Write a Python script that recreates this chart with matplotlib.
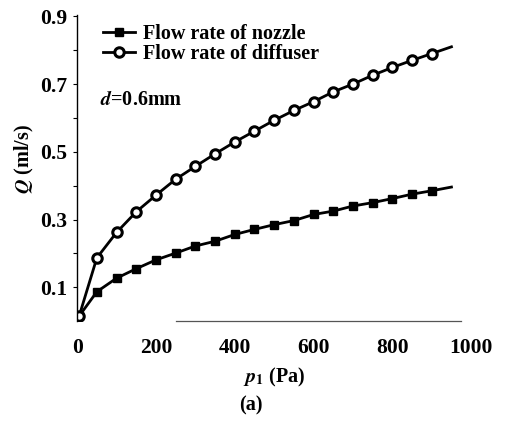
import matplotlib
matplotlib.use('Agg')
import matplotlib.pyplot as plt

# data
p_pts = [5, 50, 100, 150, 200, 250, 300, 350, 400, 450, 500,
         550, 600, 650, 700, 750, 800, 850, 900]
q_nozzle = [0.015, 0.087, 0.127, 0.155, 0.181, 0.201, 0.222, 0.236, 0.256,
            0.271, 0.285, 0.297, 0.315, 0.325, 0.340, 0.350, 0.362, 0.375, 0.385]
q_diffuser = [0.015, 0.187, 0.262, 0.323, 0.372, 0.419, 0.457, 0.494, 0.529,
              0.561, 0.593, 0.622, 0.648, 0.677, 0.700, 0.726, 0.749, 0.770, 0.790]
# line continues past the last marker
p_end = 950
q_nozzle_end = 0.396
q_diffuser_end = 0.810

x_ticks = [0, 200, 400, 600, 800, 1000]
y_ticks = [0.1, 0.2, 0.3, 0.4, 0.5, 0.6, 0.7, 0.8, 0.9]
y_labels = ['0.1', '', '0.3', '', '0.5', '', '0.7', '', '0.9']

plt.rcParams['font.family'] = ['Liberation Serif', 'DejaVu Serif']
plt.rcParams['font.weight'] = 'bold'
plt.rcParams['mathtext.fontset'] = 'stix'

FS_TICK = 15.5
FS_TEXT = 14.5

fig = plt.figure(figsize=(5.11, 4.30), dpi=100)
ax = fig.add_axes([0.151, 0.253, 0.771, 0.713])

ax.plot(p_pts + [p_end], q_nozzle + [q_nozzle_end], color='black', lw=2.0,
        marker='s', markersize=6.3, markerfacecolor='black', markeredgecolor='black',
        markevery=list(range(len(p_pts))), label='Flow rate of nozzle')
ax.plot(p_pts + [p_end], q_diffuser + [q_diffuser_end], color='black', lw=2.0,
        marker='o', markersize=6.8, markerfacecolor='white', markeredgecolor='black',
        markeredgewidth=2.2, markevery=list(range(len(p_pts))),
        label='Flow rate of diffuser')

ax.set_xlim(0, 1000)
ax.set_ylim(0, 0.905)
ax.set_xticks(x_ticks)
ax.set_xticklabels([str(v) for v in x_ticks], fontsize=FS_TICK, fontweight='bold')
ax.set_yticks(y_ticks)
ax.set_yticklabels(y_labels, fontsize=FS_TICK, fontweight='bold')
ax.tick_params(axis='x', length=0, pad=12)
ax.tick_params(axis='y', direction='out', length=3, width=0.8, pad=4)

for s in ['top', 'right']:
    ax.spines[s].set_visible(False)
ax.spines['left'].set_linewidth(1.0)
ax.spines['bottom'].set_bounds(250, 975)
ax.spines['bottom'].set_color('#555555')
ax.spines['bottom'].set_linewidth(0.9)

ax.set_xlabel(r'$\boldsymbol{p}_{\rm 1}$ (Pa)', fontsize=FS_TEXT, fontweight='bold',
              labelpad=6)
ax.set_ylabel(r'$\mathit{Q}$ (ml/s)', fontsize=FS_TEXT, fontweight='bold')
ax.yaxis.set_label_coords(-0.105, 0.53)

ax.legend(loc='upper left', bbox_to_anchor=(0.045, 0.995), frameon=False,
          prop={'size': FS_TEXT, 'weight': 'bold'}, handlelength=1.6,
          handletextpad=0.4, labelspacing=0.0, borderaxespad=0.0)

ax.text(0.058, 0.722, r'$\mathit{d}$=0.6mm', transform=ax.transAxes,
        fontsize=FS_TEXT, fontweight='bold', ha='left', va='center')

fig.text(0.49, 0.058, '(a)', fontsize=FS_TEXT, fontweight='bold', ha='center',
         va='center')

fig.savefig('out.png', dpi=100, facecolor='white')
